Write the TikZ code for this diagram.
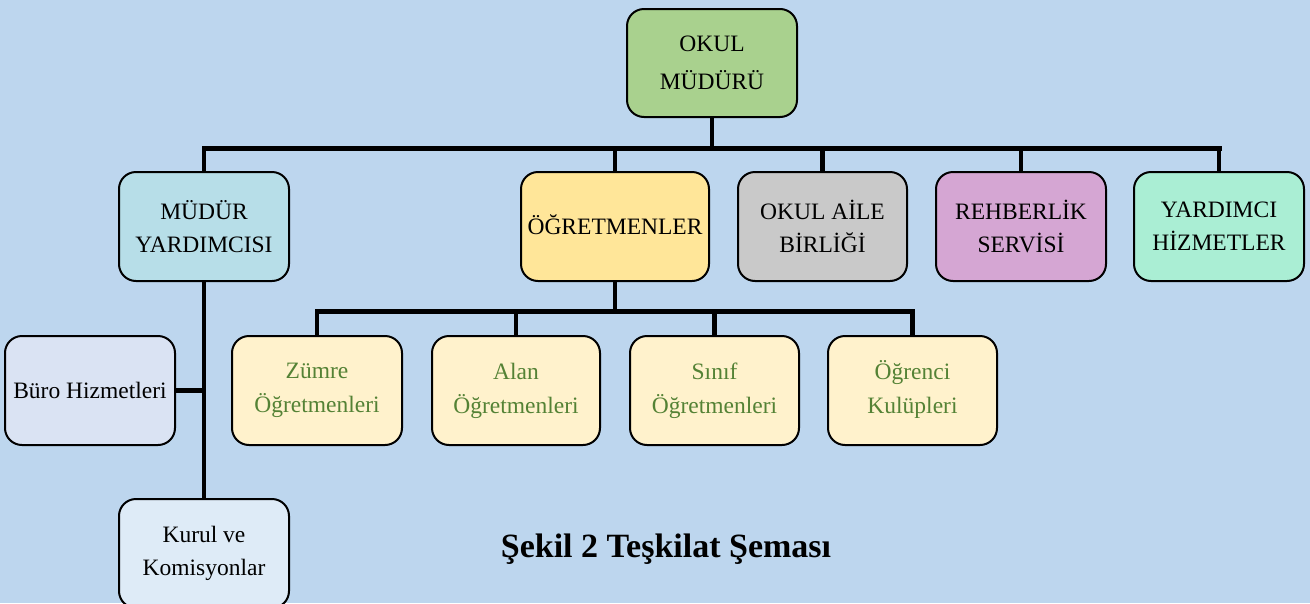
\documentclass[tikz,border=0pt]{standalone}
\usepackage{fontspec}
\setmainfont{Liberation Serif}
\definecolor{bgc}{RGB}{189,214,238}
\definecolor{okulc}{RGB}{169,209,142}
\definecolor{myardc}{RGB}{183,222,232}
\definecolor{ogretc}{RGB}{255,230,153}
\definecolor{ailec}{RGB}{201,201,201}
\definecolor{rehberc}{RGB}{213,166,211}
\definecolor{yardc}{RGB}{170,238,212}
\definecolor{subc}{RGB}{255,242,204}
\definecolor{greentxt}{RGB}{84,130,53}
\definecolor{buroc}{RGB}{218,227,243}
\definecolor{kurulc}{RGB}{222,235,247}
\begin{document}
\begin{tikzpicture}[x=1pt,y=-1pt,
  box/.style={draw=black, line width=2pt, rounded corners=17pt, inner sep=0pt,
    align=center, minimum height=109pt, font=\fontsize{23.5}{33}\selectfont},
  sub/.style={box, fill=subc, text=greentxt, font=\fontsize{23.5}{34}\selectfont},
  conn/.style={line width=4.5pt, black},
  bus/.style={line width=5pt, black, line cap=rect}]
\useasboundingbox (0,0) rectangle (1310,603);
\clip (0,0) rectangle (1310,603);
\fill[bgc] (0,0) rectangle (1310,603);

\node[box, fill=okulc, minimum width=170pt, minimum height=108pt, font=\fontsize{23.5}{38}\selectfont] (okul) at (712,63) {OKUL\\MÜDÜRÜ};

\node[box, fill=myardc, minimum width=170pt] (myard) at (204,226.5) {MÜDÜR\\YARDIMCISI};
\node[box, fill=ogretc, minimum width=188pt] (ogret) at (615,226.5) {\smash{Ö}\smash{Ğ}RETMENLER};
\node[box, fill=ailec, minimum width=169pt] (aile) at (822.5,226.5) {OKUL AİLE\\BİRLİĞİ};
\node[box, fill=rehberc, minimum width=170pt] (rehber) at (1021,226.5) {REHBERLİK\\SERVİSİ};
\node[box, fill=yardc, minimum width=170pt] (yard) at (1219,226.5) {YARDIMCI\\HİZMETLER};

\node[sub, minimum width=170pt] (zumre) at (317,390.5) {Zümre\\Öğretmenleri};
\node[sub, minimum width=168pt] (alan) at (516,390.5) {Alan\\Öğretmenleri};
\node[sub, minimum width=169pt] (sinif) at (714.5,390.5) {Sınıf\\Öğretmenleri};
\node[sub, minimum width=169pt] (ogrenci) at (912.5,390.5) {\smash{Ö}ğrenci\\Kulüpleri};

\node[box, fill=buroc, minimum width=170pt] (buro) at (90,390.5) {Büro Hizmetleri};
\node[box, fill=kurulc, minimum width=170pt] (kurul) at (204,553.5) {Kurul ve\\Komisyonlar};

\node[font=\fontsize{34}{40}\selectfont\bfseries] (caption) at (666,549) {Şekil 2 Teşkilat Şeması};

\coordinate (busa) at (0,148);
\coordinate (busb) at (0,311);

% top level bus
\draw[conn] (okul.south) -- (okul.south |- busa);
\draw[bus] (myard.north |- busa) -- (yard.north |- busa);
\foreach \n in {myard,ogret,aile,rehber,yard}
  \draw[conn] (\n.north |- busa) -- (\n.north);

% teachers bus
\draw[conn] (ogret.south) -- (ogret.south |- busb);
\draw[bus] (zumre.north |- busb) -- (ogrenci.north |- busb);
\foreach \n in {zumre,alan,sinif,ogrenci}
  \draw[conn] (\n.north |- busb) -- (\n.north);

% assistant branch
\draw[conn] (myard.south) -- (kurul.north);
\draw[conn] (buro.east) -- (buro.east -| myard.south);
\end{tikzpicture}
\end{document}
